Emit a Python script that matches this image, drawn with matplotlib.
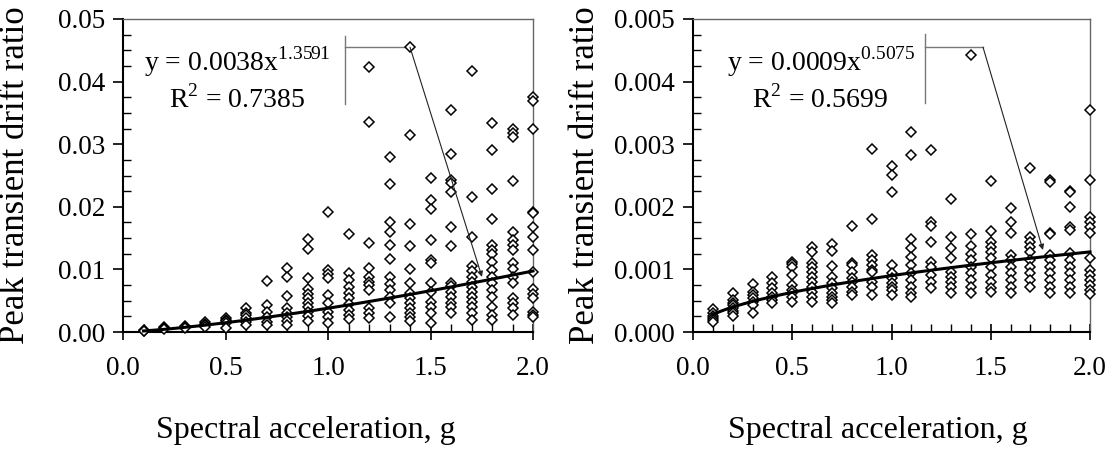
import matplotlib
matplotlib.use('Agg')
import matplotlib.pyplot as plt
from matplotlib.ticker import MultipleLocator, FormatStrFormatter
import numpy as np

plt.rcParams['font.family'] = ['Liberation Serif', 'DejaVu Serif']
plt.rcParams['mathtext.fontset'] = 'custom'
plt.rcParams['mathtext.rm'] = 'Liberation Serif'

# spectral acceleration levels (g)
sa = [0.1, 0.2, 0.3, 0.4, 0.5, 0.6, 0.7, 0.8, 0.9, 1.0,
      1.1, 1.2, 1.3, 1.4, 1.5, 1.6, 1.7, 1.8, 1.9, 2.0]

# left panel: peak transient drift ratio at each level
drift_a = [
    [0.0003, 0.0002, 0.0001],
    [0.0008, 0.0006, 0.0004],
    [0.0010, 0.0008, 0.0006],
    [0.0016, 0.0013, 0.0011, 0.0008],
    [0.0023, 0.0019, 0.0017, 0.0014, 0.0006],
    [0.0038, 0.0031, 0.0027, 0.0022, 0.0016, 0.0011],
    [0.0082, 0.0043, 0.0032, 0.0024, 0.0016, 0.0011],
    [0.0103, 0.0088, 0.0058, 0.0038, 0.0031, 0.0024, 0.0018, 0.0011],
    [0.0148, 0.0132, 0.0087, 0.0068, 0.0061, 0.0054, 0.0047, 0.0040, 0.0032, 0.0026, 0.0018],
    [0.0191, 0.0099, 0.0093, 0.0086, 0.0059, 0.0046, 0.0032, 0.0024, 0.0015],
    [0.0156, 0.0094, 0.0083, 0.0072, 0.0063, 0.0054, 0.0045, 0.0035, 0.0027, 0.0020],
    [0.0424, 0.0335, 0.0142, 0.0103, 0.0088, 0.0080, 0.0075, 0.0067, 0.0038, 0.0031, 0.0023],
    [0.0280, 0.0236, 0.0175, 0.0159, 0.0139, 0.0116, 0.0088, 0.0077, 0.0067, 0.0056, 0.0047, 0.0024],
    [0.0456, 0.0315, 0.0173, 0.0138, 0.0100, 0.0078, 0.0063, 0.0054, 0.0046, 0.0038, 0.0031, 0.0024, 0.0018],
    [0.0246, 0.0211, 0.0196, 0.0147, 0.0115, 0.0110, 0.0079, 0.0064, 0.0048, 0.0040, 0.0031, 0.0014],
    [0.0355, 0.0284, 0.0243, 0.0238, 0.0223, 0.0167, 0.0137, 0.0078, 0.0073, 0.0064, 0.0056, 0.0047, 0.0040, 0.0030],
    [0.0417, 0.0215, 0.0151, 0.0105, 0.0098, 0.0088, 0.0080, 0.0072, 0.0064, 0.0056, 0.0048, 0.0040, 0.0031, 0.0019],
    [0.0334, 0.0291, 0.0228, 0.0180, 0.0139, 0.0131, 0.0125, 0.0112, 0.0099, 0.0088, 0.0078, 0.0067, 0.0056, 0.0040, 0.0027, 0.0019],
    [0.0325, 0.0318, 0.0312, 0.0242, 0.0160, 0.0147, 0.0139, 0.0131, 0.0110, 0.0100, 0.0088, 0.0078, 0.0054, 0.0046, 0.0038, 0.0027],
    [0.0376, 0.0369, 0.0325, 0.0192, 0.0190, 0.0168, 0.0152, 0.0131, 0.0096, 0.0068, 0.0061, 0.0054, 0.0032, 0.0027, 0.0024],
]

# right panel
drift_b = [
    [0.00036, 0.00030, 0.00026, 0.00022, 0.00019, 0.00016],
    [0.00063, 0.00051, 0.00047, 0.00043, 0.00038, 0.00034, 0.00030, 0.00026],
    [0.00077, 0.00064, 0.00059, 0.00054, 0.00048, 0.00043, 0.00031],
    [0.00088, 0.00078, 0.00070, 0.00063, 0.00056, 0.00051, 0.00046],
    [0.00112, 0.00109, 0.00104, 0.00091, 0.00075, 0.00067, 0.00062, 0.00056, 0.00048],
    [0.00136, 0.00127, 0.00110, 0.00104, 0.00096, 0.00088, 0.00080, 0.00072, 0.00064, 0.00056, 0.00048],
    [0.00141, 0.00130, 0.00105, 0.00088, 0.00079, 0.00070, 0.00062, 0.00056, 0.00051, 0.00047],
    [0.00169, 0.00111, 0.00107, 0.00096, 0.00086, 0.00080, 0.00072, 0.00064, 0.00059],
    [0.00292, 0.00180, 0.00123, 0.00115, 0.00107, 0.00099, 0.00096, 0.00080, 0.00072, 0.00059],
    [0.00265, 0.00251, 0.00223, 0.00107, 0.00094, 0.00086, 0.00078, 0.00072, 0.00067, 0.00059],
    [0.00320, 0.00283, 0.00148, 0.00134, 0.00120, 0.00107, 0.00094, 0.00083, 0.00072, 0.00063, 0.00056],
    [0.00291, 0.00176, 0.00169, 0.00143, 0.00112, 0.00104, 0.00091, 0.00080, 0.00070],
    [0.00212, 0.00152, 0.00134, 0.00118, 0.00096, 0.00088, 0.00080, 0.00072, 0.00063],
    [0.00442, 0.00157, 0.00137, 0.00125, 0.00115, 0.00104, 0.00094, 0.00083, 0.00072, 0.00063],
    [0.00241, 0.00162, 0.00143, 0.00136, 0.00128, 0.00118, 0.00104, 0.00091, 0.00080, 0.00070, 0.00064],
    [0.00198, 0.00176, 0.00158, 0.00123, 0.00115, 0.00104, 0.00094, 0.00083, 0.00072, 0.00062],
    [0.00262, 0.00152, 0.00144, 0.00136, 0.00128, 0.00115, 0.00104, 0.00094, 0.00083, 0.00072],
    [0.00243, 0.00240, 0.00158, 0.00157, 0.00123, 0.00115, 0.00104, 0.00094, 0.00083, 0.00072, 0.00062],
    [0.00226, 0.00224, 0.00200, 0.00167, 0.00163, 0.00126, 0.00115, 0.00104, 0.00094, 0.00083, 0.00072, 0.00062],
    [0.00355, 0.00243, 0.00184, 0.00176, 0.00168, 0.00158, 0.00119, 0.00099, 0.00091, 0.00083, 0.00075, 0.00067, 0.00061],
]

# power-law fits y = a * x^b
fit_a = (0.0038, 1.3591, 0.7385)
fit_b = (0.0009, 0.5075, 0.5699)


def panel(ax, drift, fit, ymax, yfmt, callout):
    xs = np.concatenate([[x] * len(col) for x, col in zip(sa, drift)])
    ys = np.concatenate(drift)
    ax.plot(xs, ys, 'D', ms=5.4, mfc='white', mec='black', mew=1.1,
            ls='none', clip_on=False, zorder=3)

    a, b, r2 = fit
    xf = np.linspace(sa[0], sa[-1], 100)
    ax.plot(xf, a * xf ** b, color='black', lw=2.2, zorder=4, clip_on=False)

    ax.set_xlim(0, 2)
    ax.set_ylim(0, ymax)
    ax.xaxis.set_major_locator(MultipleLocator(0.5))
    ax.xaxis.set_minor_locator(MultipleLocator(0.1))
    ax.yaxis.set_major_locator(MultipleLocator(ymax / 5))
    ax.yaxis.set_minor_locator(MultipleLocator(ymax / 20))
    ax.xaxis.set_major_formatter(FormatStrFormatter('%.1f'))
    ax.yaxis.set_major_formatter(FormatStrFormatter(yfmt))

    ax.tick_params(axis='x', which='major', direction='inout', length=12,
                   width=1.2, labelsize=19.5, pad=11)
    ax.tick_params(axis='x', which='minor', direction='in', length=5.5, width=1.0)
    ax.tick_params(axis='y', which='major', direction='out', length=7,
                   width=1.2, labelsize=19.5, pad=6)
    ax.tick_params(axis='y', which='minor', direction='in', length=6, width=1.0)

    for s in ('left', 'bottom'):
        ax.spines[s].set_color('black')
        ax.spines[s].set_linewidth(1.5)
    for s in ('top', 'right'):
        ax.spines[s].set_color('#666666')
        ax.spines[s].set_linewidth(1.0)

    # equation box with Excel-style callout
    (ex, ey), (rx, ry), (bx, by0, by1), (hx, hy), (tx, ty) = callout
    ax.text(ex, ey, 'y = %.4fx$^{\\mathregular{%.4f}}$' % (a, b),
            fontsize=20, ha='left', va='center')
    ax.text(rx, ry, 'R$^{\\mathregular{2}}$ = %.4f' % r2,
            fontsize=20, ha='left', va='center')
    ax.plot([bx, bx], [by0, by1], color='#777777', lw=1.0)
    ax.plot([bx, hx], [hy, hy], color='#777777', lw=1.0)
    ax.annotate('', xy=(tx, ty), xytext=(hx, hy),
                arrowprops=dict(arrowstyle='-|>', color='#222222', lw=0.8,
                                mutation_scale=8, shrinkA=0, shrinkB=0))


fig = plt.figure(figsize=(11.12, 4.5), dpi=100)
ax1 = fig.add_axes([123 / 1112, 118 / 450, 410 / 1112, 313 / 450])
ax2 = fig.add_axes([693 / 1112, 118 / 450, 397 / 1112, 313 / 450])

panel(ax1, drift_a, fit_a, 0.05, '%.2f',
      ((0.100, 0.0431), (0.222, 0.0371), (1.083, 0.0473, 0.0364),
       (1.40, 0.0455), (1.751, 0.0088)))
panel(ax2, drift_b, fit_b, 0.005, '%.3f',
      ((0.170, 0.00431), (0.296, 0.00371), (1.169, 0.00476, 0.00366),
       (1.461, 0.00455), (1.763, 0.00131)))

for ax, lx, xl in ((ax1, -0.222, 0.445), (ax2, -0.228, 0.466)):
    ax.set_ylabel('Peak transient drift ratio', fontsize=25)
    ax.yaxis.set_label_coords(lx, 0.5)
    ax.set_xlabel('Spectral acceleration, g', fontsize=23, va='top')
    ax.xaxis.set_label_coords(xl, -0.268)

fig.savefig('out.png', dpi=100)
